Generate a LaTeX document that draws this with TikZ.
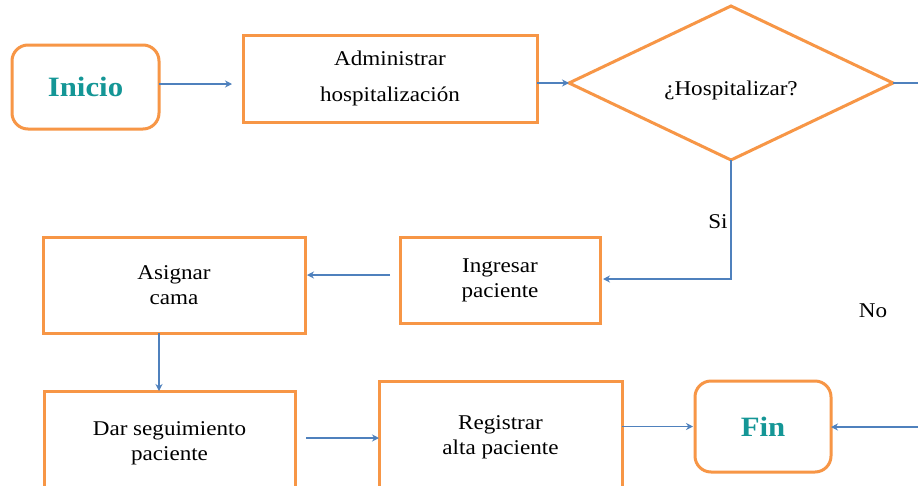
\documentclass[tikz,border=0pt]{standalone}
\usepackage{fontspec}
\setmainfont[FakeStretch=1.1]{Liberation Serif}
\usetikzlibrary{shapes.geometric,arrows.meta}
\definecolor{boxorange}{RGB}{247,150,70}
\definecolor{flowblue}{RGB}{79,129,189}
\definecolor{termteal}{RGB}{20,150,150}
\tikzset{
  procbox/.style={draw=boxorange, line width=3pt, fill=white, align=center,
    inner sep=0pt, outer sep=0pt, font=\fontsize{21}{25}\selectfont},
  termbox/.style={procbox, rounded corners=16pt, text=termteal,
    font=\fontsize{28}{30}\selectfont\bfseries},
  decision/.style={procbox, diamond, aspect=2.1},
  flow/.style={draw=flowblue, line width=1.6pt, -{Stealth[length=7pt,width=7pt]}},
  flowline/.style={draw=flowblue, line width=1.6pt},
  lbl/.style={font=\fontsize{21}{24}\selectfont, inner sep=0pt}
}
\begin{document}
\begin{tikzpicture}[x=1pt,y=1pt]
\useasboundingbox (0,0) rectangle (918,-485);
\clip (0,0) rectangle (918,-485);
\fill[white] (0,0) rectangle (918,-485);

% process steps
\node[termbox, minimum width=147pt, minimum height=84pt] (inicio) at (85.5,-87) {Inicio};
\node[procbox, minimum width=294pt, minimum height=87pt] (admin) at (390,-78.5)
  {Administrar\\[11pt]hospitalización};
\node[decision, minimum width=324pt, minimum height=154pt] (dec) at (731,-83) {};
\node[lbl] (declbl) at (731,-90) {¿Hospitalizar?};
\node[procbox, minimum width=200pt, minimum height=86pt] (ingresar) at (500,-280)
  {Ingresar\\paciente};
\node[procbox, minimum width=262pt, minimum height=96pt] (asignar) at (174,-285)
  {Asignar\\cama};
\node[procbox, minimum width=251pt, minimum height=104pt] (dar) at (169.5,-443)
  {Dar seguimiento\\paciente};
\node[procbox, minimum width=243pt, minimum height=112pt] (registrar) at (500.5,-437)
  {Registrar\\alta paciente};
\node[termbox, minimum width=136pt, minimum height=91pt] (fin) at (763,-426.5) {Fin};

% loose ends of the "No" branch at the right margin
\coordinate (noTop) at (918,-83);
\coordinate (noBot) at (918,-427);

% connectors
\draw[flow, shorten >=11pt] ([yshift=3pt]inicio.east) -- ([yshift=3pt]inicio.east -| admin.west);
\draw[flow] (dec.west -| admin.east) -- (dec.west);
\draw[flowline] (dec.east) -- (noTop);
\draw[flow, shorten >=3pt] (dec.south) |- ([yshift=1pt]ingresar.east);
\draw[flow, shorten <=10pt, shorten >=2pt] ([yshift=5pt]ingresar.west) -- ([yshift=5pt]ingresar.west -| asignar.east);
\draw[flow] ([xshift=-15pt]asignar.south) -- ([xshift=-15pt]asignar.south |- dar.north);
\draw[flow, shorten <=11pt] ([yshift=5pt]dar.east) -- ([yshift=5pt]dar.east -| registrar.west);
\draw[flow, shorten >=2pt] (fin.west -| registrar.east) -- (fin.west);
\draw[flow] (noBot) -- (noBot -| fin.east);

% branch labels
\node[lbl] (si) at (718,-222) {Si};
\node[lbl] (no) at (873,-311) {No};
\end{tikzpicture}
\end{document}
